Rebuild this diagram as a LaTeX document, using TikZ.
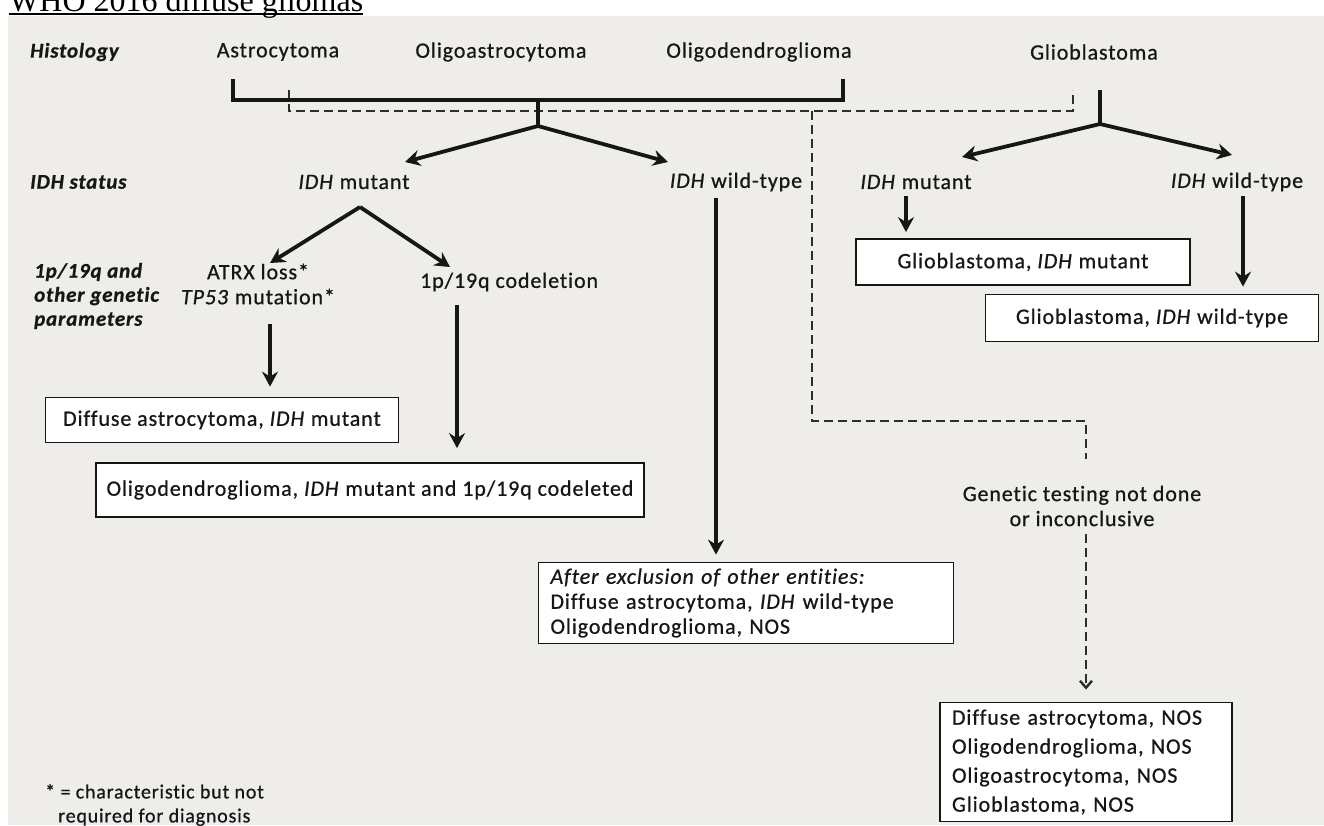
\documentclass[tikz,border=0pt]{standalone}
\usepackage{fontspec}
\setmainfont{Carlito}[LetterSpace=4, FakeBold=0.7, Ligatures=NoCommon]
\newfontfamily\titlefont{Liberation Serif}
\usetikzlibrary{arrows.meta}
\definecolor{bggray}{RGB}{238,237,234}
\definecolor{ink}{RGB}{22,22,22}
\newcommand{\IDH}{\textit{IDH}}
\begin{document}
\begin{tikzpicture}[x=1pt,y=-1pt,
  txt/.style={font=\fontsize{22}{25}\selectfont, inner sep=0pt, text=ink},
  rowlab/.style={font=\fontsize{21}{24}\selectfont\bfseries\itshape, inner sep=0pt, text=ink, anchor=west, align=left},
  solidln/.style={line width=3.8pt, draw=ink},
  arr/.style={solidln, -{Stealth[length=15pt,width=16pt,inset=5pt]}},
  dashln/.style={line width=2.4pt, draw=ink!90, dash pattern=on 9pt off 5pt},
  dasharr/.style={dashln, -{Straight Barb[length=7pt,width=12pt]}},
  box/.style={draw=ink, line width=1.8pt, fill=white, inner sep=0pt, font=\fontsize{22}{25}\selectfont, text=ink}
]
\useasboundingbox (0,0) rectangle (1324,825);
\fill[white] (0,0) rectangle (1324,825);
\fill[bggray] (8,16) rectangle (1324,825);

% title
\node[anchor=base west, inner sep=0pt, font=\titlefont\fontsize{32}{36}\selectfont] (title) at (9,11) {WHO 2016 diffuse gliomas};
\draw[line width=1.4pt] ([yshift=-3pt]title.base west) -- ([yshift=-3pt]title.base east);

% row 1
\node[rowlab] (hist) at (30,52) {Histology};
\node[txt] (astro) at (278,52) {Astrocytoma};
\node[txt] (oligoastro) at (501,52) {Oligoastrocytoma};
\node[txt] (oligoden) at (759,52) {Oligodendroglioma};
\node[txt] (gbm) at (1094,52) {Glioblastoma};

% row 2
\node[rowlab] (idhstat) at (30,182) {IDH status};
\node[txt] (idhmA) at (354,182) {\IDH{} mutant};
\node[txt] (idhwA) at (736,182) {\IDH{} wild-type};
\node[txt] (idhmB) at (916,182) {\IDH{} mutant};
\node[txt] (idhwB) at (1237,182) {\IDH{} wild-type};

% row 3
\node[rowlab] (genpar) at (34,296) {1p/19q and\\other genetic\\parameters};
\node[txt, align=center] (atrx) at (258,284) {ATRX loss*\\\textit{TP53} mutation*};
\node[txt, anchor=west] (codel) at (420,282) {1p/19q codeletion};

% boxes
\node[box, minimum width=353pt, minimum height=45pt] (daIDHm) at (222,420) {Diffuse astrocytoma, \IDH{} mutant};
\node[box, minimum width=548pt, minimum height=54pt] (odgIDHm) at (370,490) {Oligodendroglioma, \IDH{} mutant and 1p/19q codeleted};
\node[box, minimum width=334pt, minimum height=46pt] (gbmIDHm) at (1023,262) {Glioblastoma, \IDH{} mutant};
\node[box, minimum width=333pt, minimum height=47pt] (gbmIDHw) at (1152,318) {Glioblastoma, \IDH{} wild-type};
\node[box, text width=391pt, inner xsep=12pt, align=left, minimum height=81pt] (excl) at (746,603) {\textit{After exclusion of other entities:}\\Diffuse astrocytoma, \IDH{} wild-type\\Oligodendroglioma, NOS};
\node[txt, align=center] (gentest) at (1082,506) {Genetic testing not done\\or inconclusive};
\node[box, text width=268pt, inner xsep=12pt, align=left, minimum height=119pt, font=\fontsize{22}{29}\selectfont] (nos) at (1086,762) {Diffuse astrocytoma, NOS\\Oligodendroglioma, NOS\\Oligoastrocytoma, NOS\\Glioblastoma, NOS};

% footnote
\node[txt, align=left, anchor=north west, font=\fontsize{20}{24}\selectfont] (foot) at (45,784) {* = characteristic but not\\\hspace*{13pt}required for diagnosis};

% coordinates
\coordinate (bktL) at (233,79);
\coordinate (bktR) at (843,79);
\coordinate (bktJ) at (538,100);
\coordinate (bktS) at (538,126);
\coordinate (tipA) at (405,162);
\coordinate (tipB) at (668,162);
\coordinate (dL) at (289,90);
\coordinate (dR) at (1073,90);
\coordinate (dJ) at (812,111);
\coordinate (dTurn) at (1086,421);
\coordinate (dEnd) at (1086,459);
\coordinate (gS) at (1100,90);
\coordinate (gJ) at (1100,124);
\coordinate (tipC) at (962,157);
\coordinate (tipD) at (1232,155);
\coordinate (mJ) at (360,207);
\coordinate (tipE) at (270,263);
\coordinate (tipF) at (450,267);
\coordinate (a1s) at (270,324);
\coordinate (a2s) at (457,305);
\coordinate (a3s) at (716,198);
\coordinate (a4s) at (906,196);
\coordinate (a5s) at (1243,196);
\coordinate (d5s) at (1086,534);

% dashed connectors
\draw[dashln] (dL) |- (dJ) -| (dR);
\draw[dashln] (dJ) |- (dTurn) -- (dEnd);
\draw[dasharr, shorten >=12pt] (d5s) -- (d5s |- nos.north);

% solid connectors
\draw[solidln] (bktL) |- (bktJ) -| (bktR);
\draw[solidln] (bktJ) -- (bktS);
\draw[arr] (bktS) -- (tipA);
\draw[arr] (bktS) -- (tipB);
\draw[solidln] (gS) -- (gJ);
\draw[arr] (gJ) -- (tipC);
\draw[arr] (gJ) -- (tipD);
\draw[arr] (mJ) -- (tipE);
\draw[arr] (mJ) -- (tipF);
\draw[arr, shorten >=10pt] (a1s) -- (a1s |- daIDHm.north);
\draw[arr, shorten >=14pt] (a2s) -- (a2s |- odgIDHm.north);
\draw[arr, shorten >=7pt] (a3s) -- (a3s |- excl.north);
\draw[arr, shorten >=6pt] (a4s) -- (a4s |- gbmIDHm.north);
\draw[arr, shorten >=7pt] (a5s) -- (a5s |- gbmIDHw.north);
\end{tikzpicture}
\end{document}
